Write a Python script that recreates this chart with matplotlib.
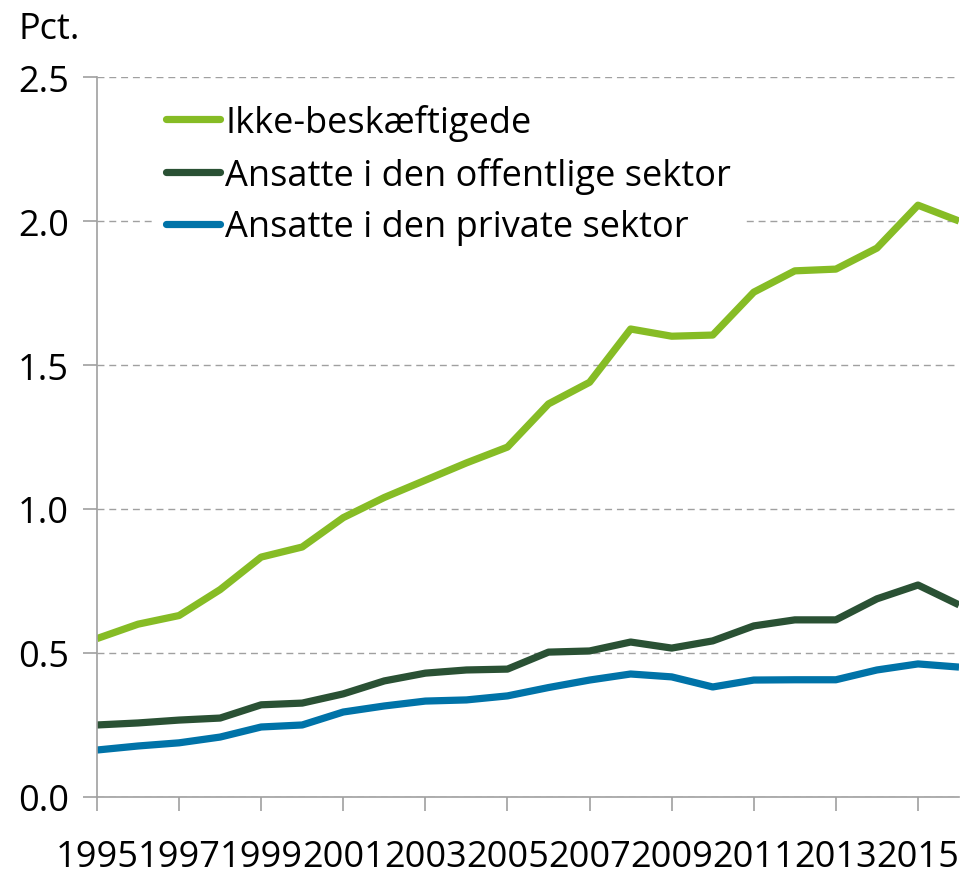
import matplotlib
matplotlib.use("Agg")
import matplotlib.pyplot as plt

years = list(range(1995, 2017))
ikke = [0.55, 0.60, 0.63, 0.72, 0.833, 0.868, 0.97, 1.04, 1.10, 1.16, 1.215,
        1.365, 1.44, 1.625, 1.60, 1.604, 1.753, 1.827, 1.833, 1.906, 2.055, 2.0]
offentlig = [0.25, 0.257, 0.267, 0.274, 0.32, 0.326, 0.358, 0.403, 0.43, 0.441, 0.444,
             0.503, 0.507, 0.538, 0.517, 0.542, 0.594, 0.615, 0.615, 0.688, 0.736, 0.667]
privat = [0.163, 0.177, 0.188, 0.208, 0.243, 0.25, 0.295, 0.316, 0.333, 0.337, 0.351,
          0.38, 0.406, 0.427, 0.417, 0.382, 0.406, 0.407, 0.407, 0.441, 0.462, 0.451]
labels = ["Ikke-beskæftigede", "Ansatte i den offentlige sektor", "Ansatte i den private sektor"]
colors = ["#86BC25", "#2A5134", "#0073A8"]
yticks = [0.0, 0.5, 1.0, 1.5, 2.0, 2.5]
xticks = list(range(1995, 2017, 2))

plt.rcParams['font.family'] = ['Open Sans', 'DejaVu Sans']
fig = plt.figure(figsize=(9.6, 8.7), dpi=100)
ax = fig.add_axes([0.101, 0.0828, 0.898, 0.8275])

for vals, lab, c in zip([ikke, offentlig, privat], labels, colors):
    ax.plot(years, vals, color=c, lw=5.2, label=lab, solid_capstyle='butt', clip_on=True)

ax.set_xlim(1995, 2016)
ax.set_ylim(0, 2.5)
ax.set_yticks(yticks)
ax.set_yticklabels([f"{v:.1f}" for v in yticks])
ax.set_xticks(xticks)
ax.set_xticklabels([str(x) for x in xticks])
ax.grid(axis='y', color='#A0A0A0', lw=1, ls=(0, (5, 3.5)))
ax.set_axisbelow(True)
for s in ['top', 'right']:
    ax.spines[s].set_visible(False)
for s in ['left', 'bottom']:
    ax.spines[s].set_color('#A0A0A0')
    ax.spines[s].set_linewidth(1.2)
ax.tick_params(axis='both', colors='#A0A0A0', labelcolor='black', labelsize=26,
               length=10, width=1.2, direction='out')
ax.tick_params(axis='y', pad=10)
ax.tick_params(axis='x', pad=20)

leg = ax.legend(loc='upper left', bbox_to_anchor=(0.067, 0.978), frameon=True,
                fontsize=26, handlelength=1.5, handletextpad=0.15, labelspacing=0.44,
                borderpad=0.3, borderaxespad=0)
leg.get_frame().set_facecolor('white')
leg.get_frame().set_edgecolor('none')
leg.get_frame().set_alpha(1)
for h in leg.legend_handles:
    h.set_solid_capstyle('round')

fig.text(0.019, 0.965, "Pct.", fontsize=26, va='center', ha='left')

fig.savefig("out.png", dpi=100)
